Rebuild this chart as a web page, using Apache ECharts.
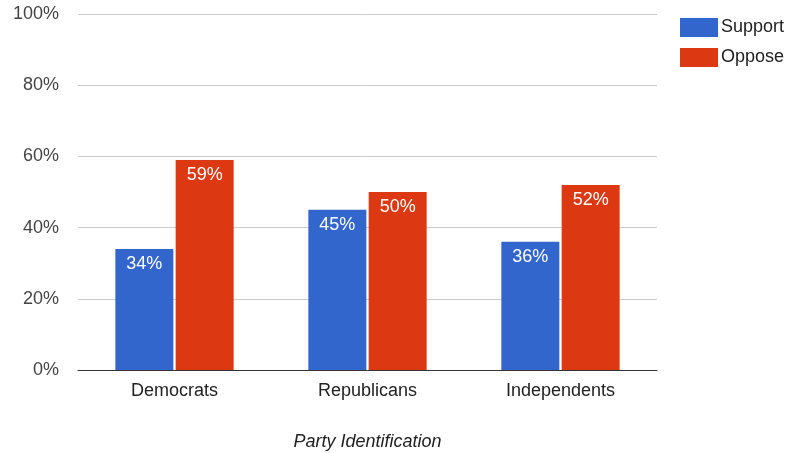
<!DOCTYPE html>
<html><head><meta charset="utf-8">
<script src="https://cdn.jsdelivr.net/npm/echarts@6/dist/echarts.min.js"></script>
<style>html,body{margin:0;padding:0;background:#fff}#c{width:790px;height:453px}</style>
</head><body><div id="c"></div>
<script>
const categories = ["Democrats", "Republicans", "Independents"];
const support = [34, 45, 36];
const oppose = [59, 50, 52];
const yTicks = [0, 20, 40, 60, 80, 100];

const chart = echarts.init(document.getElementById('c'));
const lbl = {show: true, position: 'insideTop', distance: 6, color: '#fff', fontSize: 18, fontFamily: 'Arial, Liberation Sans, sans-serif', formatter: p => p.value + '%'};
chart.setOption({
  animation: false,
  textStyle: {fontFamily: 'Arial, Liberation Sans, sans-serif'},
  grid: {left: 78, right: 133, top: 14, bottom: 83, containLabel: false, outerBoundsMode: 'none'},
  legend: {
    orient: 'vertical', left: 675, top: 13, itemWidth: 38, itemHeight: 19, itemGap: 11,
    icon: 'rect', textStyle: {fontSize: 18, color: '#222', padding: [0, 0, 0, -2]},
    data: ['Support', 'Oppose']
  },
  xAxis: {
    type: 'category', data: categories,
    name: 'Party Identification', nameLocation: 'middle', nameGap: 63,
    nameTextStyle: {fontStyle: 'italic', fontSize: 18, color: '#222'},
    axisTick: {show: false},
    axisLine: {lineStyle: {color: '#333', width: 1}},
    axisLabel: {fontSize: 18, color: '#222', margin: 12}
  },
  yAxis: {
    type: 'value', min: yTicks[0], max: yTicks[yTicks.length - 1], interval: 20,
    axisLabel: {fontSize: 18, color: '#444', margin: 19, formatter: v => v + '%'},
    splitLine: {lineStyle: {color: '#ccc'}},
    axisLine: {show: false}, axisTick: {show: false}
  },
  series: [
    {name: 'Support', type: 'bar', data: support, barWidth: 58, barGap: '4%', itemStyle: {color: '#3366cc'}, label: lbl},
    {name: 'Oppose', type: 'bar', data: oppose, barWidth: 58, itemStyle: {color: '#dc3912'}, label: lbl}
  ]
});
</script></body></html>
